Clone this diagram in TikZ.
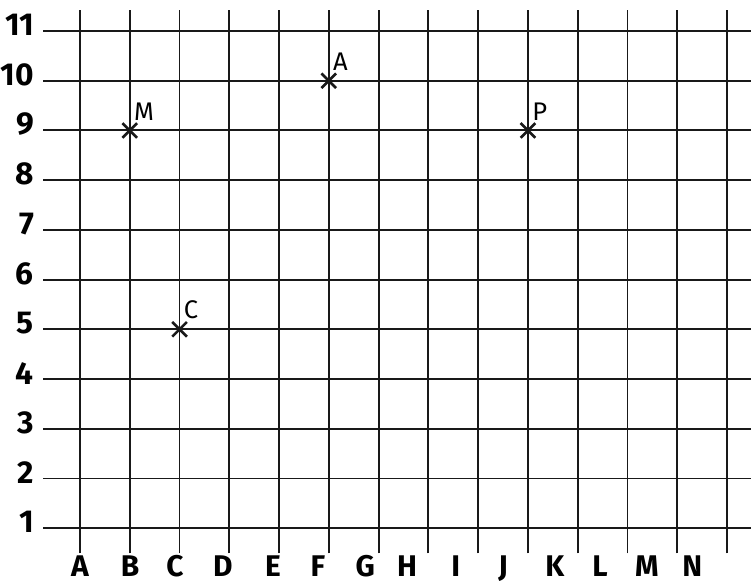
\documentclass[tikz,border=0pt]{standalone}
\usepackage{fontspec}
\setmainfont{Fira Sans}
\usetikzlibrary{positioning, shapes.misc}
\colorlet{colLinea}{black!90}
\tikzset{
  lineaReja/.style={draw=colLinea, line width=1.1pt},
  etiquetaFila/.style={font=\fontsize{18}{18}\selectfont\bfseries, anchor=east, inner sep=0pt},
  etiquetaCol/.style={font=\fontsize{17}{17}\selectfont\bfseries, anchor=base, inner sep=0pt},
  marcaPunto/.style={cross out, draw=colLinea, line width=1.5pt,
    minimum size=0.24cm, inner sep=0pt},
  etiquetaPunto/.style={font=\fontsize{14.5}{14.5}\selectfont, anchor=south west,
    inner sep=0pt, xshift=0.08cm, yshift=0.2cm},
}

\begin{document}
\begin{tikzpicture}[x=0.995cm, y=0.994cm]
  \useasboundingbox (-0.607,-0.127) rectangle (14.482,11.624);
  % reja
  \foreach \c in {1,...,14}
    \draw[lineaReja] (\c,0.497) -- (\c,11.42);
  \foreach \r in {1,...,11}
    \draw[lineaReja] (0.257,\r) -- (14.482,\r);
  % numeros de fila
  \foreach \r in {1,...,11}
    \node[etiquetaFila] (fila\r) at (0.08,\r+0.12) {\r};
  % letras de columna
  \foreach \l/\x in {A/1, B/2.005, C/2.91, D/3.87, E/4.88, F/5.78, G/6.73,
                     H/7.57, I/8.55, J/9.5, K/10.54, L/11.45, M/12.39, N/13.3}
    \node[etiquetaCol] (col\l) at (\x,0.02) {\l};
  % puntos
  \node[marcaPunto] (puntoM) at (2,9) {};
  \node[etiquetaPunto] (etqM) at (puntoM.center) {M};
  \node[marcaPunto] (puntoA) at (6,10) {};
  \node[etiquetaPunto] (etqA) at (puntoA.center) {A};
  \node[marcaPunto] (puntoP) at (10,9) {};
  \node[etiquetaPunto] (etqP) at (puntoP.center) {P};
  \node[marcaPunto] (puntoC) at (3,5) {};
  \node[etiquetaPunto] (etqC) at (puntoC.center) {C};
\end{tikzpicture}
\end{document}
